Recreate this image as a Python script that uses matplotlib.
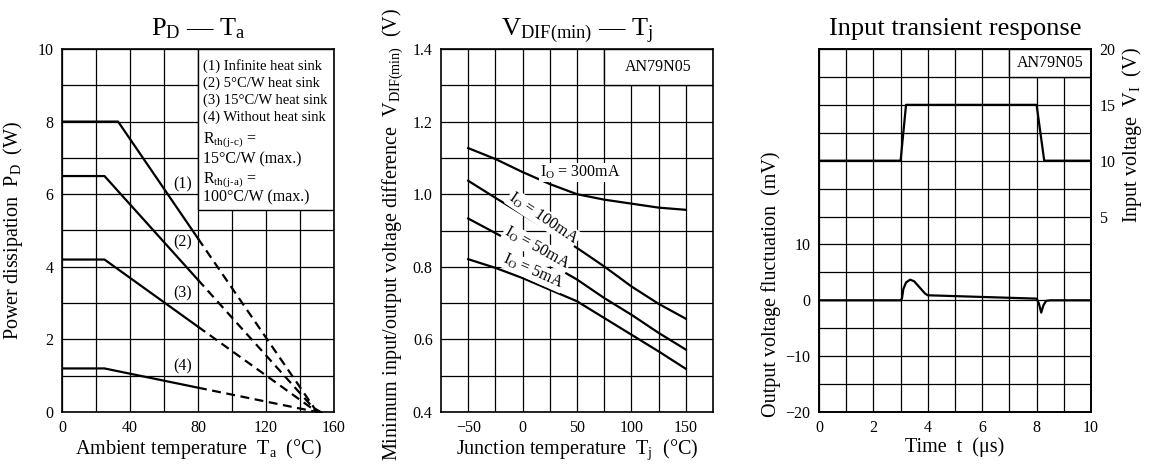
import matplotlib
matplotlib.use("Agg")
import matplotlib.pyplot as plt
import numpy as np
from matplotlib.patches import Rectangle

plt.rcParams['font.family'] = ['Liberation Serif', 'DejaVu Serif']
plt.rcParams['mathtext.fontset'] = 'custom'
plt.rcParams['mathtext.rm'] = 'Liberation Serif'
plt.rcParams['mathtext.default'] = 'regular'

# --- P_D - T_a (derating curves) ---
ta_1 = [0, 33, 80]
pd_1 = [8.0, 8.0, 4.78]
ta_2 = [0, 25, 80]
pd_2 = [6.5, 6.5, 3.64]
ta_3 = [0, 25, 80]
pd_3 = [4.2, 4.2, 2.35]
ta_4 = [0, 25, 80]
pd_4 = [1.2, 1.2, 0.67]
ta_max = 150
curve_names = ['(1)', '(2)', '(3)', '(4)']
legend_lines = ['(1) Infinite heat sink', '(2) 5°C/W heat sink',
                '(3) 15°C/W heat sink', '(4) Without heat sink']

# --- V_DIF(min) - T_j ---
tj = [-50, -25, 0, 25, 50, 75, 100, 125, 150]
vdif_300 = [1.127, 1.097, 1.061, 1.028, 1.000, 0.985, 0.974, 0.963, 0.957]
vdif_100 = [1.037, 0.990, 0.944, 0.898, 0.852, 0.801, 0.746, 0.698, 0.657]
vdif_50 = [0.933, 0.893, 0.852, 0.808, 0.765, 0.714, 0.668, 0.618, 0.572]
vdif_5 = [0.821, 0.797, 0.769, 0.737, 0.705, 0.659, 0.613, 0.567, 0.519]

# --- Input transient response ---
t_in = [0, 3.0, 3.2, 8.0, 8.28, 10]
v_in = [10, 10, 15, 15, 10, 10]
t_out = [0, 3.0, 3.05, 3.1, 3.2, 3.35, 3.5, 3.7, 3.9, 4.0, 8.0, 8.08, 8.17, 8.25, 8.35, 8.5, 10]
dv_out = [0, 0, 0.3, 2.0, 3.2, 3.7, 3.4, 2.3, 1.2, 0.9, 0.3, -0.5, -2.2, -0.9, -0.1, 0, 0]

TICK = 11.5
LABEL = 14.5
TITLE = 19
NOTE = 10.5
LW = 1.6

fig = plt.figure(figsize=(11.5, 4.65), dpi=100)
w, h = 272 / 1150, 363 / 465
bottom = 53 / 465
ax1 = fig.add_axes([62 / 1150, bottom, w, h])
ax2 = fig.add_axes([441 / 1150, bottom, w, h])
ax3 = fig.add_axes([819 / 1150, bottom, w, h])


def style(ax):
	ax.set_axisbelow(True)
	ax.grid(which='both', color='black', lw=0.9)
	ax.tick_params(which='both', length=0, labelsize=TICK, pad=6)
	for s in ax.spines.values():
		s.set_linewidth(1.2)


# panel 1
ax1.set_xlim(0, 160)
ax1.set_ylim(0, 10)
ax1.set_xticks(np.arange(0, 161, 40))
ax1.set_xticks(np.arange(0, 161, 20), minor=True)
ax1.set_yticks(np.arange(0, 11, 2))
ax1.set_yticks(np.arange(0, 11, 1), minor=True)
style(ax1)
for xs, ys in [(ta_1, pd_1), (ta_2, pd_2), (ta_3, pd_3), (ta_4, pd_4)]:
	ax1.plot(xs, ys, color='black', lw=LW, zorder=3)
	ax1.plot([xs[-1], ta_max], [ys[-1], 0], color='black', lw=LW,
			 ls=(0, (4, 2.5)), zorder=3)
ax1.plot([ta_max], [0], marker=(3, 0, 30), color='black', ms=7, zorder=4)
for name, yy in zip(curve_names, [6.28, 4.68, 3.27, 1.25]):
	ax1.text(71, yy, name, fontsize=NOTE + 1, ha='center', va='center')
ax1.add_patch(Rectangle((80, 5.56), 80, 4.44, facecolor='white',
						edgecolor='black', lw=1.0, zorder=2))
for i, line in enumerate(legend_lines):
	ax1.text(83, 9.53 - i * 0.47, line, fontsize=NOTE, va='center', zorder=5)
ax1.text(83, 7.47, 'R$_{th(j\u2011c)}$ =', fontsize=NOTE + 1, va='center', zorder=5)
ax1.text(83, 6.97, '15°C/W (max.)', fontsize=NOTE + 1, va='center', zorder=5)
ax1.text(83, 6.39, 'R$_{th(j\u2011a)}$ =', fontsize=NOTE + 1, va='center', zorder=5)
ax1.text(83, 5.92, '100°C/W (max.)', fontsize=NOTE + 1, va='center', zorder=5)
ax1.set_title('P$_D$ — T$_a$', fontsize=TITLE, pad=10)
ax1.set_xlabel('Ambient temperature  T$_a$  (°C)', fontsize=LABEL)
ax1.set_ylabel('Power dissipation  P$_D$  (W)', fontsize=LABEL)
ax1.xaxis.set_label_coords(0.5, -0.07)
ax1.yaxis.set_label_coords(-0.136, 0.5)

# panel 2
ax2.set_xlim(-75, 175)
ax2.set_ylim(0.4, 1.4)
ax2.set_xticks([-50, 0, 50, 100, 150])
ax2.set_xticks(np.arange(-50, 151, 25), minor=True)
ax2.set_yticks(np.arange(0.4, 1.41, 0.2))
ax2.set_yticks(np.arange(0.4, 1.41, 0.1), minor=True)
ax2.set_xticklabels(['\u221250', '0', '50', '100', '150'])
ax2.yaxis.set_major_formatter(matplotlib.ticker.FormatStrFormatter('%.1f'))
style(ax2)
for vs in [vdif_300, vdif_100, vdif_50, vdif_5]:
	ax2.plot(tj, vs, color='black', lw=LW, zorder=3)
ax2.add_patch(Rectangle((75, 1.3), 100, 0.1, facecolor='white',
						edgecolor='black', lw=1.0, zorder=2))
ax2.text(125, 1.35, 'AN79N05', fontsize=NOTE + 1, ha='center', va='center', zorder=5)
bb = dict(facecolor='white', edgecolor='none', pad=0.5)
ax2.text(53, 1.06, 'I$_O$ = 300mA', fontsize=NOTE + 1, ha='center', va='center',
		 bbox=bb, zorder=4)
ax2.text(19, 0.934, 'I$_O$ = 100mA', fontsize=NOTE + 1, ha='center', va='center',
		 rotation=-34, bbox=bb, zorder=4)
ax2.text(13, 0.852, 'I$_O$ = 50mA', fontsize=NOTE + 1, ha='center', va='center',
		 rotation=-29, bbox=bb, zorder=4)
ax2.text(10, 0.787, 'I$_O$ = 5mA', fontsize=NOTE + 1, ha='center', va='center',
		 rotation=-24, bbox=bb, zorder=4)
ax2.set_title('V$_{DIF(min)}$ — T$_j$', fontsize=TITLE, pad=10)
ax2.set_xlabel('Junction temperature  T$_j$  (°C)', fontsize=LABEL)
ax2.set_ylabel('Minimum input/output voltage difference  V$_{DIF(min)}$  (V)', fontsize=LABEL)
ax2.xaxis.set_label_coords(0.5, -0.07)
ax2.yaxis.set_label_coords(-0.132, 0.49)

# panel 3
ax3.set_xlim(0, 10)
ax3.set_ylim(-20, 45)
ax3.set_xticks(np.arange(0, 11, 2))
ax3.set_xticks(np.arange(0, 11, 1), minor=True)
ax3.set_yticks([-20, -10, 0, 10])
ax3.set_yticks(np.arange(-20, 46, 5), minor=True)
ax3.set_yticklabels(['\u221220', '\u221210', '0', '10'])
style(ax3)
ax3.plot(t_out, dv_out, color='black', lw=LW, zorder=3)
ax3.add_patch(Rectangle((7, 40), 3, 5, facecolor='white',
						edgecolor='black', lw=1.0, zorder=2))
ax3.text(8.5, 42.5, 'AN79N05', fontsize=NOTE + 1, ha='center', va='center', zorder=5)
ax3r = ax3.twinx()
ax3r.set_ylim(-12.5, 20)
ax3r.set_yticks([5, 10, 15, 20])
ax3r.tick_params(length=0, labelsize=TICK, pad=6)
ax3r.plot(t_in, v_in, color='black', lw=LW, zorder=3)
for s in ax3r.spines.values():
	s.set_linewidth(1.2)
ax3.set_title('Input transient response', fontsize=TITLE, pad=10)
ax3.set_xlabel('Time  t  (\u03bcs)', fontsize=LABEL)
ax3.set_ylabel('Output voltage fluctuation  (mV)', fontsize=LABEL)
ax3r.set_ylabel('Input voltage  V$_I$  (V)', fontsize=LABEL)
ax3.xaxis.set_label_coords(0.5, -0.07)
ax3.yaxis.set_label_coords(-0.14, 0.353)
ax3r.yaxis.set_label_coords(1.107, 0.763)

fig.savefig('out.png', dpi=100)
